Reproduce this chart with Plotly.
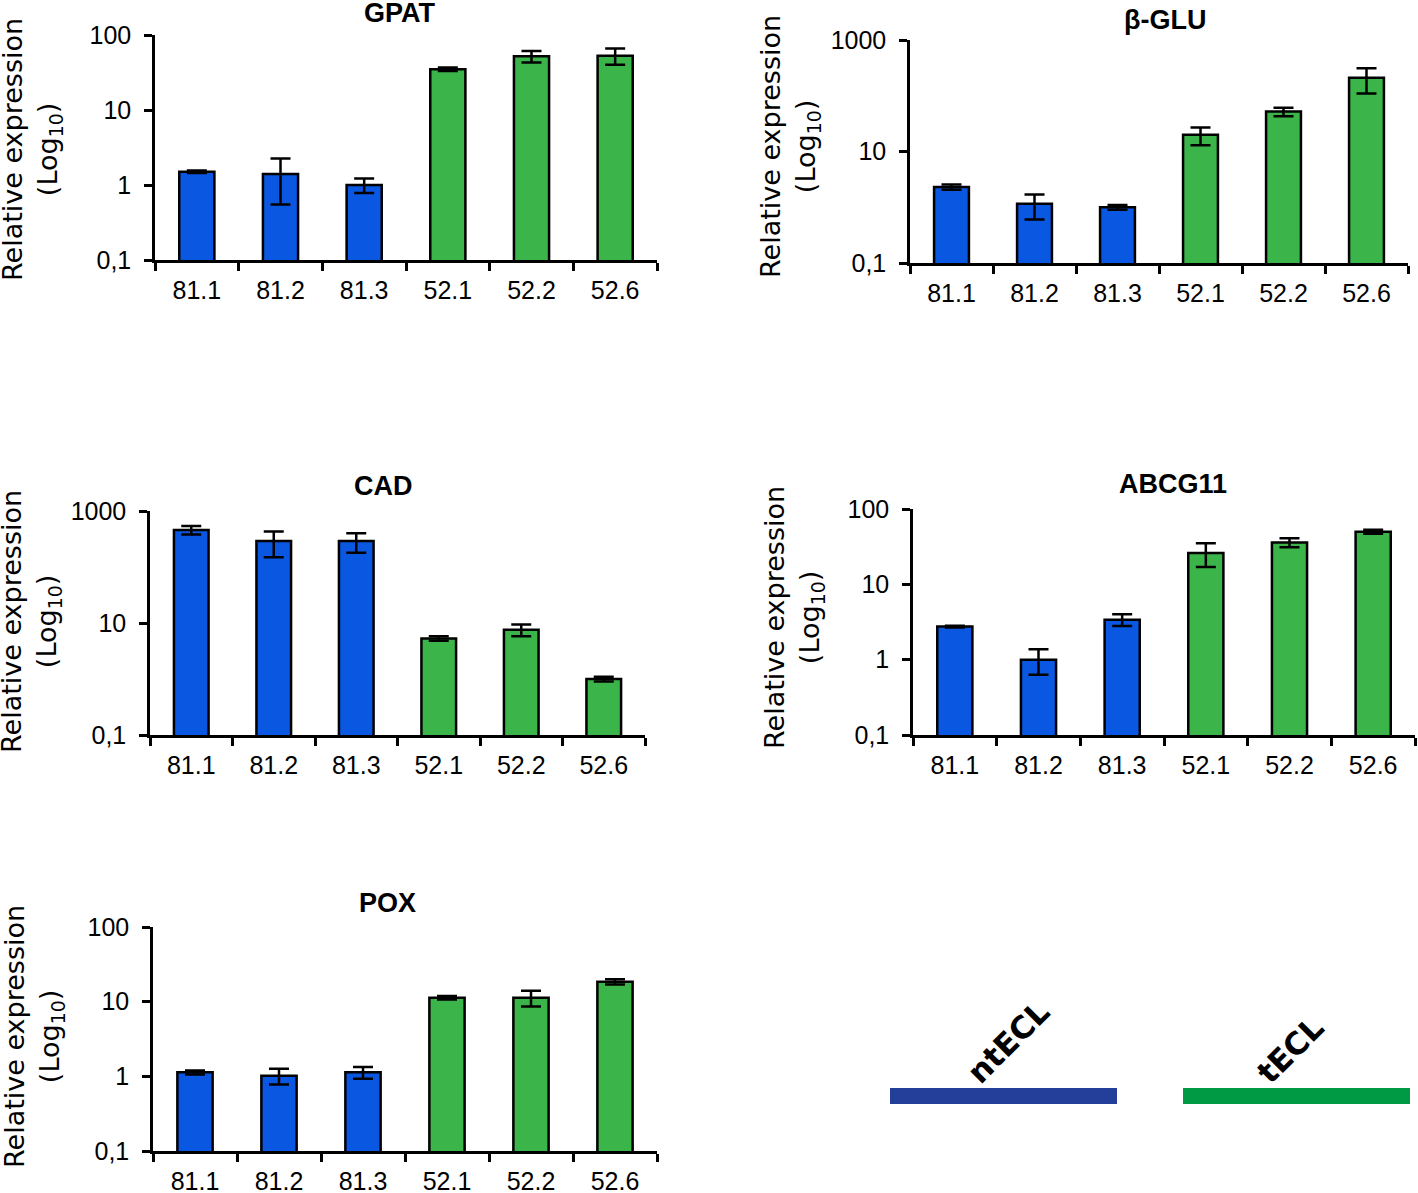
import plotly.graph_objects as go

W, H = 1418, 1193

samples = ["81.1", "81.2", "81.3", "52.1", "52.2", "52.6"]
bar_colors = ["#0a57e2"] * 3 + ["#3bb44a"] * 3

gpat_vals = [1.5, 1.4, 1.0, 35, 52, 53]
gpat_err = [0.06, 0.85, 0.22, 2, 9, 13]

bglu_vals = [2.3, 1.15, 1.0, 20, 52, 210]
bglu_err = [0.25, 0.55, 0.1, 7, 9, 100]

cad_vals = [460, 290, 290, 5.3, 7.6, 1.0]
cad_err = [80, 140, 110, 0.5, 1.8, 0.1]

abcg_vals = [2.75, 1.0, 3.4, 26, 36, 50]
abcg_err = [0.08, 0.37, 0.6, 9, 5, 3]

pox_vals = [1.13, 1.02, 1.13, 11.3, 11.3, 18.5]
pox_err = [0.07, 0.24, 0.2, 0.6, 2.7, 1.5]

legend_labels = ["ntECL", "tECL"]
legend_colors = ["#233f99", "#009a44"]


def fx(x):
    return x / W


def fy(y):
    return 1 - y / H


# title, values, errors, log range, tick values, plot box (x0, x1, ytop, ybottom), title pos, ytitle pos
panels = [
    ("GPAT", gpat_vals, gpat_err, [-1, 2], [0.1, 1, 10, 100], (155, 657, 35, 260), (400, 13), (32, 150)),
    ("β-GLU", bglu_vals, bglu_err, [-1, 3], [0.1, 10, 1000], (910, 1408, 40, 263), (1165, 20), (790, 147)),
    ("CAD", cad_vals, cad_err, [-1, 3], [0.1, 10, 1000], (150, 645, 511, 735), (383, 486), (31, 622)),
    ("ABCG11", abcg_vals, abcg_err, [-1, 2], [0.1, 1, 10, 100], (913, 1415, 509, 735), (1173, 484), (794, 618)),
    ("POX", pox_vals, pox_err, [-1, 2], [0.1, 1, 10, 100], (153, 657, 927, 1151), (387, 903), (34, 1037)),
]

tick_font = dict(family="Liberation Sans, Arial", size=25, color="black")

fig = go.Figure()
annotations = []

for i, (name, vals, errs, rng, tv, box, tpos, ypos) in enumerate(panels):
    n = "" if i == 0 else str(i + 1)
    x0, x1, y0, y1 = box
    fig.add_trace(go.Bar(
        x=samples, y=vals,
        xaxis="x" + n, yaxis="y" + n,
        width=0.42,
        marker=dict(color=bar_colors, line=dict(color="black", width=2.5)),
        error_y=dict(type="data", array=errs, visible=True,
                     color="black", thickness=2.5, width=10),
        showlegend=False,
    ))
    fig.layout["xaxis" + n] = dict(
        domain=[fx(x0), fx(x1)], anchor="y" + n,
        type="category", range=[-0.5, 5.5], automargin=False,
        showline=True, linecolor="black", linewidth=2.5,
        ticks="outside", tickson="boundaries", ticklen=8, tickwidth=2.5, tickcolor="black",
        tickfont=tick_font, ticklabelstandoff=6,
        showgrid=False, zeroline=False, fixedrange=True,
    )
    fig.layout["yaxis" + n] = dict(
        domain=[fy(y1), fy(y0)], anchor="x" + n,
        type="log", range=rng, automargin=False,
        tickvals=tv, ticktext=[("0,1" if v == 0.1 else str(v)) for v in tv],
        showline=True, linecolor="black", linewidth=2.5,
        ticks="outside", ticklen=8, tickwidth=2.5, tickcolor="black",
        tickfont=tick_font, ticklabelstandoff=8,
        showgrid=False, zeroline=False, fixedrange=True,
    )
    annotations.append(dict(
        x=fx(tpos[0]), y=fy(tpos[1]), xref="paper", yref="paper",
        text="<b>" + name + "</b>", showarrow=False,
        xanchor="center", yanchor="middle",
        font=dict(family="Liberation Sans, Arial", size=27, color="black"),
    ))
    annotations.append(dict(
        x=fx(ypos[0]), y=fy(ypos[1]), xref="paper", yref="paper",
        text="Relative expression<br>(Log<sub>10</sub>)", showarrow=False,
        textangle=-90, xanchor="center", yanchor="middle",
        font=dict(family="DejaVu Sans", size=27, color="black"),
    ))

# legend bars with slanted labels
legend_boxes = [(890, 1117), (1183, 1410)]
label_pos = [(1008, 1042), (1290, 1050)]
shapes = []
for lbl, col, (lx0, lx1), (ax, ay) in zip(legend_labels, legend_colors, legend_boxes, label_pos):
    shapes.append(dict(type="rect", xref="paper", yref="paper",
                       x0=fx(lx0), x1=fx(lx1), y0=fy(1104), y1=fy(1088),
                       fillcolor=col, line=dict(width=0)))
    annotations.append(dict(
        x=fx(ax), y=fy(ay), xref="paper", yref="paper",
        text="<b>" + lbl + "</b>", showarrow=False, textangle=-45,
        xanchor="center", yanchor="middle",
        font=dict(family="DejaVu Sans", size=31, color="black"),
    ))

fig.update_layout(
    width=W, height=H,
    margin=dict(l=0, r=0, t=0, b=0, pad=0, autoexpand=False),
    paper_bgcolor="white", plot_bgcolor="white",
    annotations=annotations, shapes=shapes,
    bargap=0.58,
)

# drop the default body margin so the figure sits at the page corner
fig.write_html("out.html", config={"displayModeBar": False},
               post_script="document.body.style.margin='0';")
